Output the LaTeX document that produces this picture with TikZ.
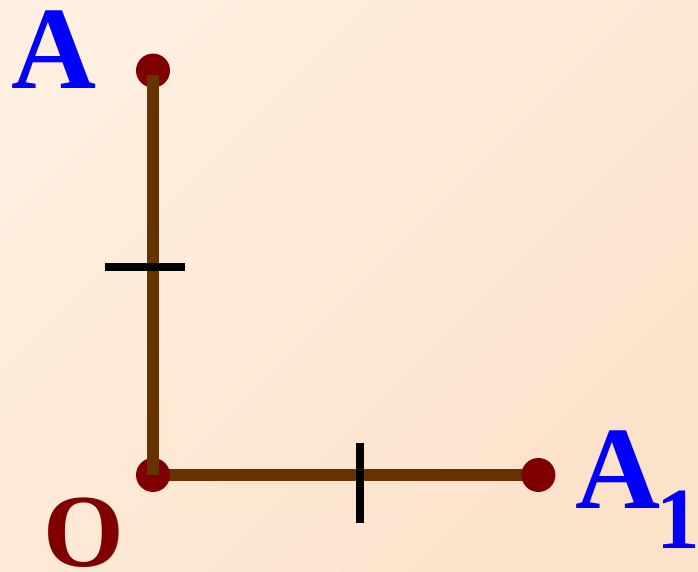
\documentclass[tikz,border=0pt]{standalone}
\usepackage{fontspec}
\setmainfont{Liberation Serif}
\usetikzlibrary{positioning, backgrounds}
\definecolor{bgtop}{RGB}{254, 239, 224}
\definecolor{bgbottom}{RGB}{253, 226, 202}
\definecolor{segbrown}{RGB}{102, 51, 0}
\definecolor{dotred}{RGB}{128, 0, 0}

\begin{document}
\begin{tikzpicture}[
			dot/.style={circle, fill=dotred, inner sep=0pt, minimum size=0.34cm},
			segment/.style={draw=segbrown, line width=0.12cm},
			tickmark/.style={draw=black, line width=0.08cm},
			ptlabel/.style={inner sep=0pt, anchor=base west, font=\fontsize{33.5}{40}\selectfont\bfseries, text=blue}
		]
		\useasboundingbox (0,0) rectangle (6.98,5.72);
		
		% Points
		\node[dot] (O) at (1.53,0.97) {};
		\node[dot, above=3.69cm of O] (A) {};
		\node[dot, right=3.50cm of O] (A1) {};
		
		% Background and lower segment
		\begin{scope}[on background layer]
		\shade[top color=bgtop, bottom color=bgbottom, shading angle=45] (0,0) rectangle (6.98,5.72);
		\draw[segment] (O.center) -- (A1.center);
		\end{scope}
		
		% Upper segment
		\draw[segment] ([yshift=-0.04cm]A.center) -- (O.center);
		
		% Equal-length marks
		\path (O) -- (A) coordinate[pos=0.515] (midOA);
		\path (O) -- (A1) coordinate[pos=0.542] (midOA1);
		\draw[tickmark] ([xshift=-0.48cm]midOA) -- ([xshift=0.32cm]midOA);
		\draw[tickmark] ([yshift=0.32cm]midOA1) -- ([yshift=-0.48cm]midOA1);
		
		% Labels
		\node[ptlabel] (labA) at (0.11,4.83) {A};
		\node[ptlabel, text=dotred, font=\fontsize{29.5}{35}\selectfont\bfseries] (labO) at (0.43,0.05) {O};
		\node[ptlabel] (labA1) at (5.75,0.63) {A\kern-0.04cm\raisebox{-0.40cm}{\fontsize{24.8}{30}\selectfont 1}};
		\end{tikzpicture}
\end{document}
